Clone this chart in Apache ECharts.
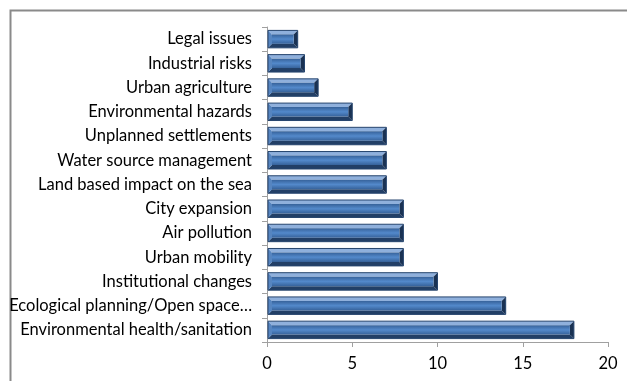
<!DOCTYPE html>
<html>
<head>
<meta charset="utf-8">
<script src="https://cdn.jsdelivr.net/npm/echarts@6/dist/echarts.min.js"></script>
<style>
  html, body { margin: 0; padding: 0; background: #fff; }
  #chart { width: 627px; height: 381px; }
</style>
</head>
<body>
<div id="chart"></div>
<script>
const categories = [
  'Legal issues',
  'Industrial risks',
  'Urban agriculture',
  'Environmental hazards',
  'Unplanned settlements',
  'Water source management',
  'Land based impact on the sea',
  'City expansion',
  'Air pollution',
  'Urban mobility',
  'Institutional changes',
  'Ecological planning/Open space\u2026',
  'Environmental health/sanitation'
]
const values = [1.8, 2.2, 3, 5, 7, 7, 7, 8, 8, 8, 10, 14, 18]

const chart = echarts.init(document.getElementById('chart'))

// bevelled bar, like the office chart style
function renderBar(params, api) {
  const idx = api.value(0)
  const val = api.value(1)
  const p0 = api.coord([0, idx])
  const p1 = api.coord([val, idx])
  const h = api.size([0, 1])[1] * 0.72
  const x0 = p0[0] + 1
  const x1 = p1[0]
  const y0 = p0[1] - h / 2
  const y1 = p0[1] + h / 2
  const b = 4
  return {
    type: 'group',
    children: [
      { type: 'polygon', shape: { points: [[x0, y0], [x1, y0], [x1 - b, y0 + b], [x0 + b, y0 + b]] }, style: { fill: '#8fb0dc' } },
      { type: 'polygon', shape: { points: [[x0, y1], [x1, y1], [x1 - b, y1 - b], [x0 + b, y1 - b]] }, style: { fill: '#223f66' } },
      { type: 'polygon', shape: { points: [[x0, y0], [x0 + b, y0 + b], [x0 + b, y1 - b], [x0, y1]] }, style: { fill: '#5685c0' } },
      { type: 'polygon', shape: { points: [[x1, y0], [x1 - b, y0 + b], [x1 - b, y1 - b], [x1, y1]] }, style: { fill: '#1a3253' } },
      {
        type: 'rect',
        shape: { x: x0 + b, y: y0 + b, width: Math.max(0, x1 - x0 - 2 * b), height: h - 2 * b },
        style: {
          fill: new echarts.graphic.LinearGradient(0, 0, 0, 1, [
            { offset: 0, color: '#36629a' },
            { offset: 0.5, color: '#5389cb' },
            { offset: 1, color: '#36629a' }
          ])
        }
      },
      { type: 'rect', shape: { x: x0, y: y0, width: x1 - x0, height: h }, style: { fill: 'none', stroke: '#26456e', lineWidth: 1 } }
    ]
  }
}

chart.setOption({
  animation: false,
  textStyle: { fontFamily: 'Lato' },
  graphic: [{
    type: 'rect',
    left: 8,
    top: 8,
    shape: { width: 640, height: 400 },
    style: { fill: 'none', stroke: '#8a8a8a', lineWidth: 2 }
  }],
  grid: { left: 267, right: 19, top: 27, bottom: 39 },
  xAxis: {
    type: 'value',
    min: 0,
    max: 20,
    interval: 5,
    splitLine: { show: false },
    axisLine: { show: true, lineStyle: { color: '#a0a0a0' } },
    axisTick: { show: true, length: 5, lineStyle: { color: '#a0a0a0' } },
    axisLabel: { color: '#000', fontSize: 16.5, margin: 13 }
  },
  yAxis: {
    type: 'category',
    inverse: true,
    data: categories,
    axisLine: { show: true, lineStyle: { color: '#a0a0a0' } },
    axisTick: { show: true, length: 5, lineStyle: { color: '#a0a0a0' } },
    axisLabel: { color: '#000', fontSize: 16.5, margin: 15 }
  },
  series: [{
    type: 'custom',
    renderItem: renderBar,
    encode: { x: 1, y: 0 },
    data: values.map((v, i) => [i, v])
  }]
})
</script>
</body>
</html>
